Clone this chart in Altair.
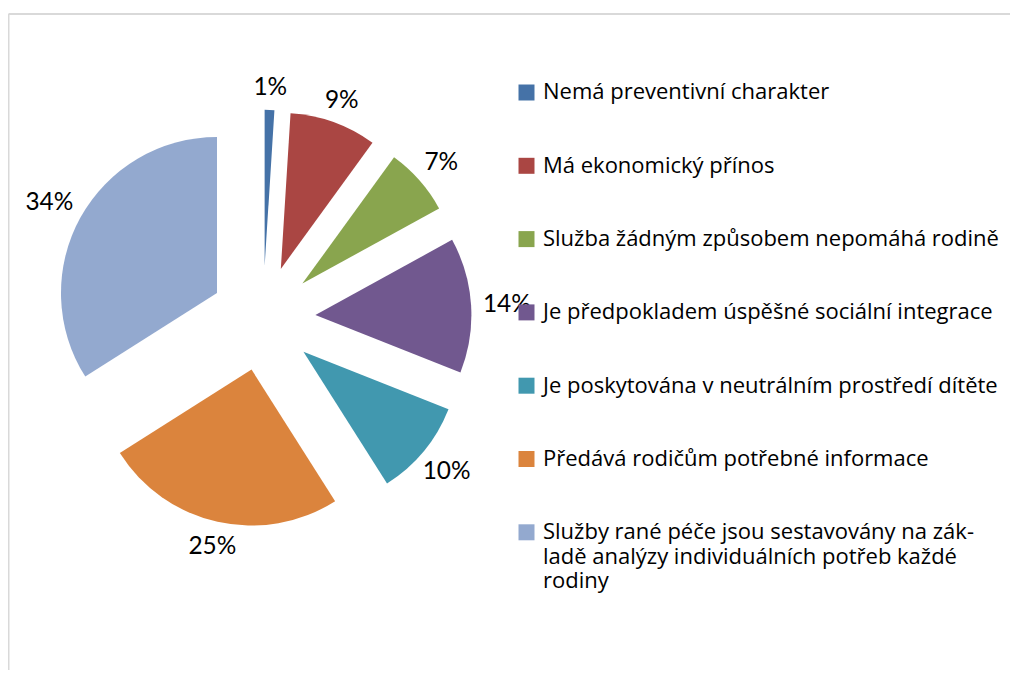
import altair as alt
import pandas as pd

categories = [
    "Nemá preventivní charakter",
    "Má ekonomický přínos",
    "Služba žádným způsobem nepomáhá rodině",
    "Je předpokladem úspěšné sociální integrace",
    "Je poskytována v neutrálním prostředí dítěte",
    "Předává rodičům potřebné informace",
    "Služby rané péče jsou sestavovány na základě analýzy individuálních potřeb každé rodiny",
]
legend_labels = [
    "Nemá preventivní charakter",
    "Má ekonomický přínos",
    "Služba žádným způsobem nepomáhá rodině",
    "Je předpokladem úspěšné sociální integrace",
    "Je poskytována v neutrálním prostředí dítěte",
    "Předává rodičům potřebné informace",
    "Služby rané péče jsou sestavovány na zák-\nladě analýzy individuálních potřeb každé\nrodiny",
]
values = [1, 9, 7, 14, 10, 25, 34]
colors = ["#4572A7", "#AA4643", "#89A54E", "#71588F", "#4198AF", "#DB843D", "#93A9CF"]

df = pd.DataFrame({
    "category": categories,
    "legend": legend_labels,
    "value": values,
    "order": list(range(len(values))),
})

# geometry (view pixels)
CX, CY = 255, 310.3
R = 156
EXPL = 52.5
LBL = 221
LEG_SQ_X, LEG_TXT_X = 518.5, 535
LEG_Y0, LEG_STEP = 84.5, 73.3
FONT = "Lato"
LEG_FONT = "Open Sans"

color = alt.Color("category:N", scale=alt.Scale(domain=categories, range=colors), legend=None)

base = (
    alt.Chart(df)
    .transform_joinaggregate(total="sum(value)")
    .transform_window(cum="sum(value)", sort=[alt.SortField("order")])
    .transform_calculate(
        a0="(datum.cum - datum.value) / datum.total * 2 * PI",
        a1="datum.cum / datum.total * 2 * PI",
    )
    .transform_calculate(mid="(datum.a0 + datum.a1) / 2")
)

arcs = (
    base.transform_calculate(
        ax=f"{CX} + {EXPL} * sin(datum.mid)",
        ay=f"{CY} - {EXPL} * cos(datum.mid)",
    )
    .mark_arc(radius=R)
    .encode(
        x=alt.X("ax:Q", scale=None, axis=None),
        y=alt.Y("ay:Q", scale=None, axis=None),
        theta=alt.Theta("a0:Q", scale=None, stack=False),
        theta2=alt.Theta2("a1:Q"),
        color=color,
    )
)

labels = (
    base.transform_calculate(
        lbl="datum.value + '%'",
        s="sin(datum.mid)",
        c="cos(datum.mid)",
    )
    .transform_calculate(w="15.5 * length(datum.lbl)")
    .transform_calculate(
        ext="min(datum.w / 2 / max(abs(datum.s), 0.001), 11 / max(abs(datum.c), 0.001))"
    )
    .transform_calculate(
        lx=f"{CX} + ({LBL} + datum.ext) * datum.s",
        ly=f"{CY} - ({LBL} + datum.ext) * datum.c + 8.7",
    )
    .mark_text(font=FONT, fontSize=24.4, align="center", baseline="alphabetic", color="#000000")
    .encode(
        x=alt.X("lx:Q", scale=None, axis=None),
        y=alt.Y("ly:Q", scale=None, axis=None),
        text="lbl:N",
    )
)

leg_sq = (
    base.transform_calculate(ly=f"{LEG_Y0} + {LEG_STEP} * datum.order")
    .mark_square(size=256, opacity=1, filled=True)
    .encode(
        x=alt.value(LEG_SQ_X),
        y=alt.Y("ly:Q", scale=None, axis=None),
        color=color,
    )
)

leg_txt = (
    base.transform_calculate(ly=f"{LEG_Y0} + 6.8 + {LEG_STEP} * datum.order")
    .mark_text(font=LEG_FONT, fontSize=22, align="left", baseline="alphabetic",
               lineBreak="\n", lineHeight=24.5, color="#000000")
    .encode(
        x=alt.value(LEG_TXT_X),
        y=alt.Y("ly:Q", scale=None, axis=None),
        text="legend:N",
    )
)

one = pd.DataFrame({"k": [0]})
border_h = alt.Chart(one).mark_rule(color="#d9d9d9", strokeWidth=2).encode(
    x=alt.value(0.5), x2=alt.value(1010), y=alt.value(6)
)
border_v = alt.Chart(one).mark_rule(color="#d9d9d9", strokeWidth=2).encode(
    x=alt.value(0.5), y=alt.value(6), y2=alt.value(670)
)

chart = (
    alt.layer(border_h, border_v, arcs, labels, leg_sq, leg_txt)
    .properties(width=1002, height=662, padding=0, autosize="none")
    .configure_view(stroke="transparent")
)

chart.save("out.html", embed_options={"renderer": "svg", "actions": False})
